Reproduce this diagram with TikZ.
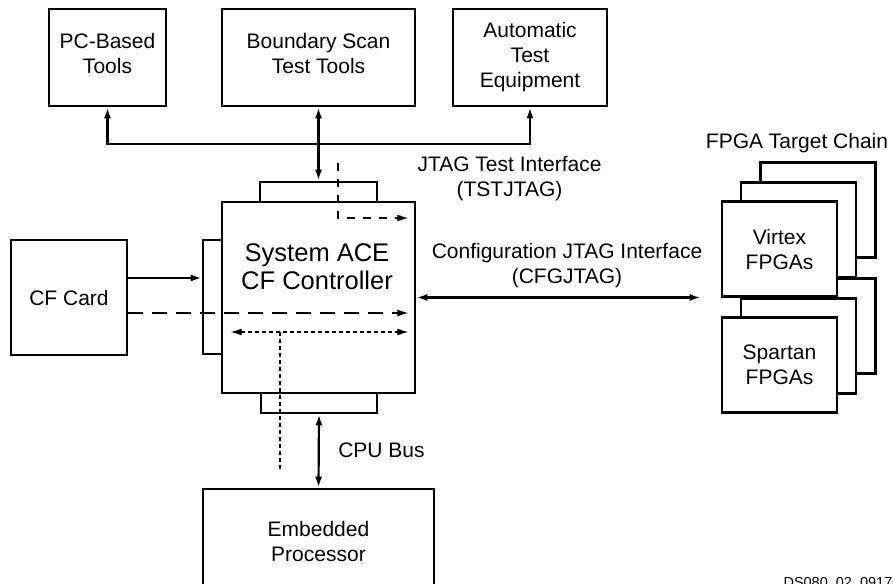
\documentclass[tikz,border=0pt]{standalone}
\usepackage{fontspec}
\setmainfont{Liberation Sans}
\usetikzlibrary{arrows.meta}
\newcommand{\boxfont}{\fontsize{21}{25}\selectfont}
\newcommand{\acefont}{\fontsize{25.5}{28.5}\selectfont}
\newcommand{\dsfont}{\fontsize{14.5}{17}\selectfont}

\begin{document}
\begin{tikzpicture}[x=1pt,y=-1pt,font=\boxfont,>={Latex[length=11pt,width=7pt]}]
    \tikzstyle{box}=[draw, line width=2.6pt, fill=white, align=center, inner sep=0pt]
    \tikzstyle{tab}=[draw, line width=2.6pt, fill=white, inner sep=0pt]
    \tikzstyle{bus}=[line width=2.2pt]
    \tikzstyle{longdash}=[line width=1.3pt, dash pattern=on 15pt off 9pt]
    \tikzstyle{middash}=[line width=1.3pt, dash pattern=on 8pt off 8pt]
    \tikzstyle{shortdash}=[line width=1.1pt, dash pattern=on 4pt off 3pt]
    \clip (0,0) rectangle (893,583);
    % test tools on top
    \node[box, minimum width=117, minimum height=97, text depth=8pt] (pc) at (107.5,57.5) {PC-Based\\Tools};
    \node[box, minimum width=193, minimum height=97, text depth=8pt] (bst) at (318.5,57.5) {Boundary Scan\\Test Tools};
    \node[box, minimum width=154, minimum height=97] (ate) at (530,57.5) {Automatic\\Test\\Equipment};
    % controller with its three ports
    \node[tab, minimum width=117, minimum height=40] (tabtop) at (318.5,202) {};
    \node[tab, minimum width=37, minimum height=114] (tableft) at (221.5,297) {};
    \node[tab, minimum width=116, minimum height=40] (tabbot) at (319,393) {};
    \node[box, minimum width=193, minimum height=191] (ctrl) at (318.5,297.5) {};
    \node[font=\acefont, align=center] (acelbl) at (317,266.5) {System ACE\\CF Controller};
    \node[box, minimum width=116, minimum height=115] (cf) at (69,297.5) {CF Card};
    \node[box, minimum width=231, minimum height=104] (emb) at (318.5,541) {Embedded\\Processor};
    % fpga chain
    \foreach \fname/\fy/\ftext in {spa/365/{Spartan\\FPGAs}, vir/249/{Virtex\\FPGAs}} {
        \node[box, minimum width=115, minimum height=95] (\fname-back) at (779.5+38.5,\fy-39) {};
        \node[box, minimum width=115, minimum height=95] (\fname-mid) at (779.5+19,\fy-19) {};
        \node[box, minimum width=115, minimum height=95] (\fname) at (779.5,\fy) {\ftext};
    }
    % buses
    \coordinate (jbus) at (318.5,144);
    \draw[bus,<->] (pc.south) -- (pc.south |- jbus) -- (ate.south |- jbus) -- (ate.south);
    \draw[bus,<->] (bst.south) -- (tabtop.north);
    \draw[bus,->] ([yshift=19.5pt]cf.east) -- ([yshift=19.5pt]cf.east -| tableft.west);
    \draw[bus,<->, shorten >=20pt] (ctrl.east) -- (ctrl.east -| vir.west);
    \draw[bus,<->] (tabbot.south) -- (emb.north);
    % internal paths
    \coordinate (tsttop) at (338,163);
    \coordinate (tstbend) at (338,218);
    \draw[middash,->, shorten >=8pt] (tsttop) -- (tstbend) -- (tstbend -| ctrl.east);
    \draw[longdash,->, shorten >=8pt] ([yshift=-15.5pt]cf.east) -- ([yshift=-15.5pt]cf.east -| ctrl.east);
    \draw[shortdash,<->, shorten <=10pt, shorten >=8pt] ([yshift=-34.5pt]ctrl.west) -- ([yshift=-34.5pt]ctrl.east);
    \coordinate (cputop) at (280,332);
    \coordinate (cpubot) at (280,469);
    \draw[shortdash] (cputop) -- (cpubot);
    % labels
    \node[align=center] (tstlbl) at (509.5,179) {JTAG Test Interface\\(TSTJTAG)};
    \node[align=center] (cfglbl) at (567,266) {Configuration JTAG Interface\\(CFGJTAG)};
    \node[anchor=base] (chainlbl) at (797,148) {FPGA Target Chain};
    \node[anchor=base] (cpulbl) at (381.5,457) {CPU Bus};
    \node[anchor=base west, font=\dsfont] (dsid) at (780,587.4) {DS080\_02\_091708};
\end{tikzpicture}
\end{document}
